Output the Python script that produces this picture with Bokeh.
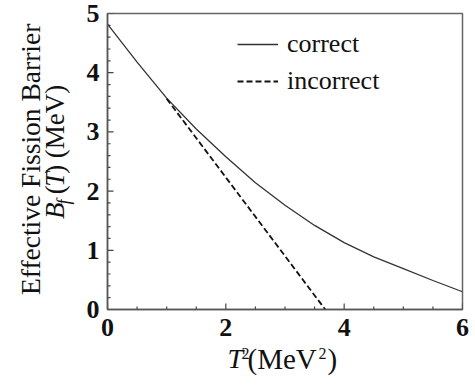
import math
from bokeh.plotting import figure
from bokeh.models import Range1d, Label, Legend, LegendItem, FixedTicker
from bokeh.layouts import row, column
from bokeh.embed import file_html
from bokeh.resources import INLINE

# ---- data ----
t2_correct = [0, 0.5, 1, 1.5, 2, 2.5, 3, 3.5, 4, 4.5, 5, 5.5, 6]
bf_correct = [4.82, 4.18, 3.57, 3.05, 2.58, 2.14, 1.76, 1.42, 1.13, 0.89, 0.69, 0.49, 0.30]
t2_incorrect = [1.0, 3.68]
bf_incorrect = [3.56, 0.0]
series_labels = ["correct", "incorrect"]
x_major_ticks = [0, 2, 4, 6]
x_minor_ticks = [0.5, 1, 1.5, 2.5, 3, 3.5, 4.5, 5, 5.5]
y_major_ticks = [0, 1, 2, 3, 4, 5]
y_minor_ticks = [0.2, 0.4, 0.6, 0.8, 1.2, 1.4, 1.6, 1.8, 2.2, 2.4, 2.6, 2.8,
                 3.2, 3.4, 3.6, 3.8, 4.2, 4.4, 4.6, 4.8]

FONT = "Liberation Serif"
INK = "#111111"
AX = "#555555"
TOP_H = 347          # height of the upper row (main plot + y-title strip)
LEFT_W = 80          # width of the y-title strip
MID = 0.31           # distance from baseline to text middle, in em


def blank(w, h):
    f = figure(width=w, height=h, output_backend="svg", toolbar_location=None, title=None,
               x_range=Range1d(0, w), y_range=Range1d(0, h),
               x_axis_location=None, y_axis_location=None,
               min_border=0, min_border_left=0, min_border_right=0,
               min_border_top=0, min_border_bottom=0)
    f.grid.visible = False
    f.outline_line_color = None
    f.background_fill_color = "white"
    f.border_fill_color = "white"
    return f


def lab(fig, text, x, y, size=27.0, style="normal", angle=0.0, align="left"):
    fig.add_layout(Label(x=x, y=y, text=text, angle=angle, text_align=align,
                         text_baseline="middle", text_font=FONT, text_font_size=f"{size}px",
                         text_font_style=style, text_color=INK))


# ---- main plot ----
p = figure(width=475 - LEFT_W, height=TOP_H, output_backend="svg", toolbar_location=None,
           title=None, x_range=Range1d(0, 6), y_range=Range1d(0, 5),
           min_border_left=107 - LEFT_W, min_border_right=13, min_border_top=13,
           min_border_bottom=TOP_H - 309)
p.background_fill_color = "white"
p.border_fill_color = "white"
p.grid.visible = False
p.outline_line_color = "#666666"
p.outline_line_width = 1.5
p.xaxis.ticker = FixedTicker(ticks=x_major_ticks)
p.yaxis.ticker = FixedTicker(ticks=y_major_ticks)
for ax in (p.xaxis, p.yaxis):
    ax.axis_line_color = AX
    ax.axis_line_width = 1.5
    ax.major_tick_in = 0
    ax.major_tick_out = 0
    ax.minor_tick_in = 0
    ax.minor_tick_out = 0
    ax.major_tick_line_color = None
    ax.minor_tick_line_color = None
    ax.major_label_text_font = FONT
    ax.major_label_text_font_style = "bold"
    ax.major_label_text_font_size = "26px"
    ax.major_label_text_color = INK
p.xaxis.major_label_standoff = 9
p.yaxis.major_label_standoff = 8

# inward ticks
p.ray(x=x_major_ticks, y=0, length=6, angle=math.pi / 2, length_units="screen",
      line_color="#444444", line_width=1.2)
p.ray(x=x_minor_ticks, y=0, length=3, angle=math.pi / 2, length_units="screen",
      line_color="#444444", line_width=1.2)
p.ray(x=0, y=y_major_ticks, length=6, angle=0, length_units="screen",
      line_color="#444444", line_width=1.2)
p.ray(x=0, y=y_minor_ticks, length=3, angle=0, length_units="screen",
      line_color="#444444", line_width=1.2)

r1 = p.line(t2_correct, bf_correct, line_color="#333333", line_width=1.3)
r2 = p.line(t2_incorrect, bf_incorrect, line_color=INK, line_width=1.8, line_dash="6 3")

legend = Legend(items=[LegendItem(label=series_labels[0], renderers=[r1]),
                       LegendItem(label=series_labels[1], renderers=[r2])],
                location=(130, 213), padding=0, margin=0, spacing=7,
                glyph_width=41, glyph_height=30, label_height=30, label_standoff=9,
                label_text_font=FONT, label_text_font_size="26px", label_text_color=INK,
                border_line_color=None, background_fill_alpha=0)
p.add_layout(legend)

# ---- y-axis title strip (x = px from strip left, y = px from strip bottom) ----
L = blank(LEFT_W, TOP_H)
V = math.pi / 2


def vlab(text, base_x, cy, size=27.0, style="normal", align="left"):
    # rotated text: its middle lies MID*size to the left of its baseline
    lab(L, text, base_x - MID * size, TOP_H - cy, size=size, style=style, angle=V, align=align)


vlab("Effective Fission Barrier", 39, 171, size=27.5, align="center")
vlab("B", 63, 241, style="italic")
vlab("f", 69, 224, size=18.0, style="italic")
vlab("(", 63, 212)
vlab("T", 63, 203, style="italic")
vlab(") (MeV)", 63, 188)

# ---- x-axis title strip ----
BH = 388 - TOP_H
B = blank(475, BH)


def hlab(text, x, base_cy, size, style="normal"):
    lab(B, text, x, 388 - (base_cy - MID * size), size=size, style=style)


hlab("T", 227, 367, 28.0, "italic")
hlab("2", 241, 358, 16.0)
hlab("(MeV", 247, 367, 29.0)
hlab("2", 318, 358, 16.0)
hlab(")", 327, 367, 29.0)

layout = column(row(L, p, spacing=0), B, spacing=0)
open("out.html", "w").write(file_html(layout, INLINE))
